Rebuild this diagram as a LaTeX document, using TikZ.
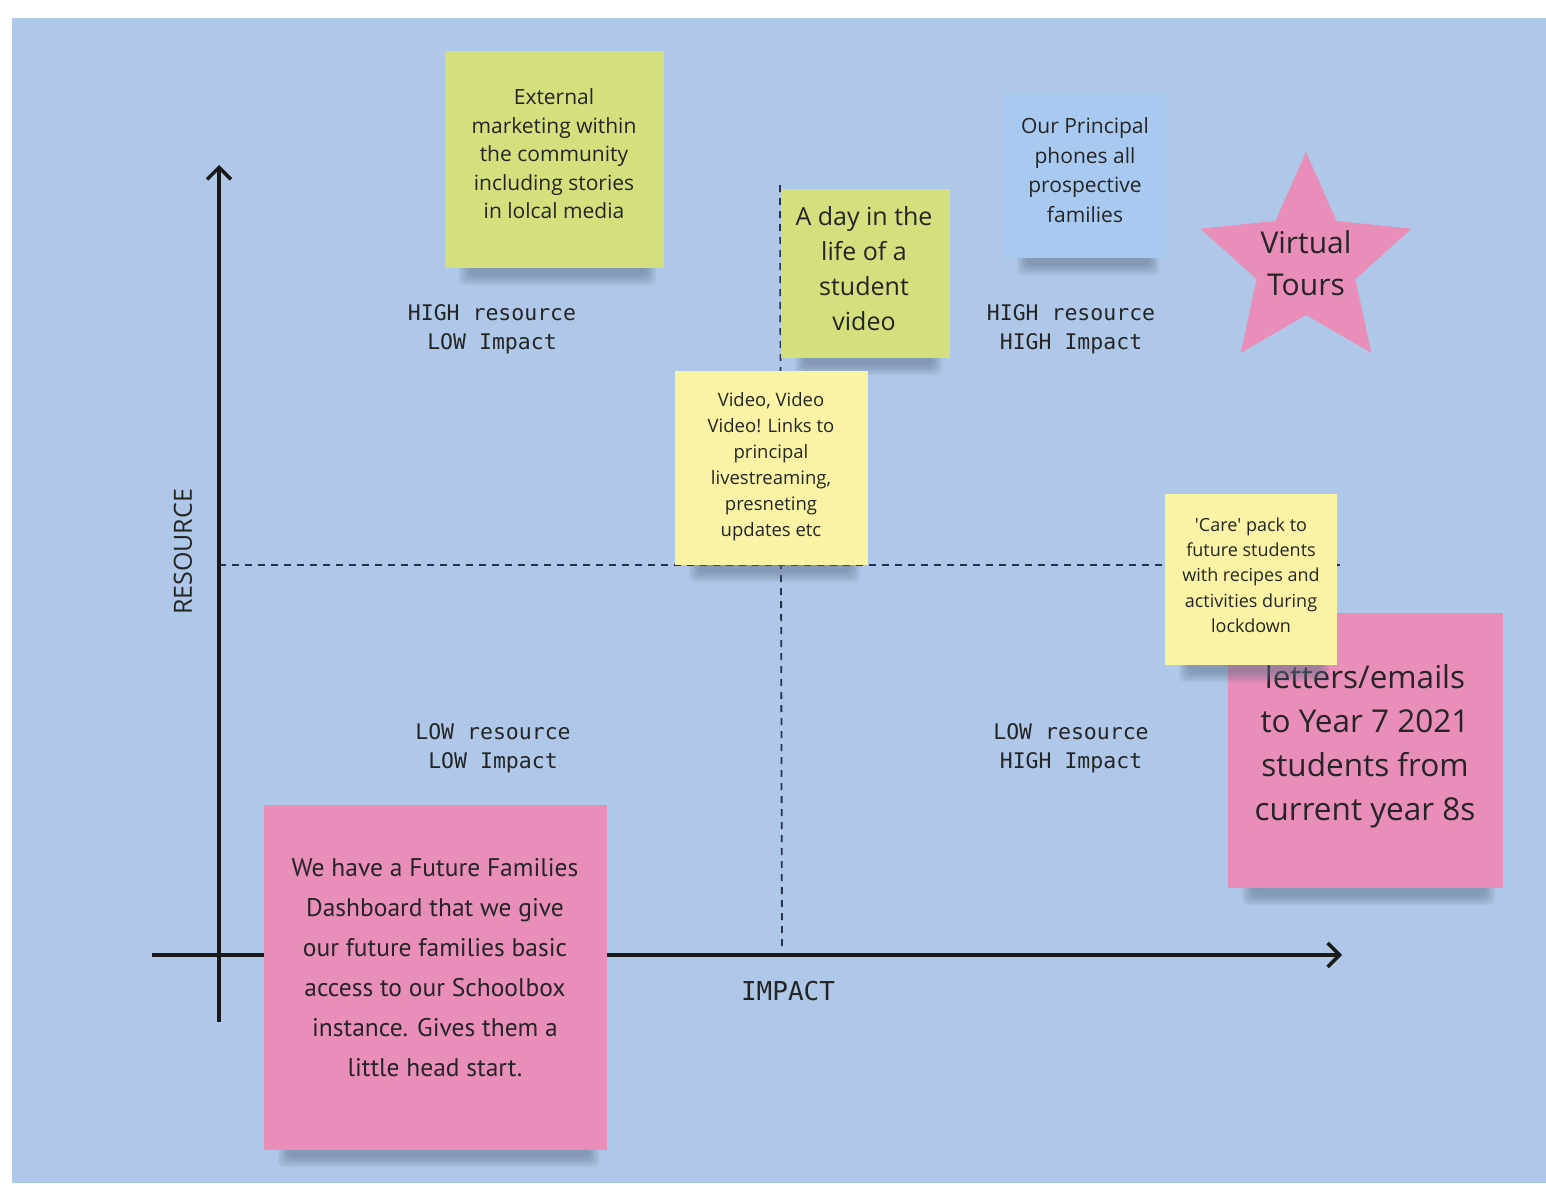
\documentclass[tikz,border=0pt]{standalone}
\usepackage{fontspec}
\setmainfont{Open Sans}
\newfontfamily\monofont{DejaVu Sans Mono}
\newfontfamily\handfont{PT Sans}
\usetikzlibrary{arrows.meta}

\definecolor{boardblue}{HTML}{AFC8E9}
\definecolor{notegreen}{HTML}{D3E07D}
\definecolor{noteyellow}{HTML}{FAF3A6}
\definecolor{noteblue}{HTML}{A8CAF1}
\definecolor{notepink}{HTML}{E88EB9}
\definecolor{dashnavy}{HTML}{27324F}
\definecolor{shadowgrey}{HTML}{5E6E88}
\definecolor{inkgrey}{HTML}{252525}

\tikzset{
  notetext/.style={text=inkgrey, align=center, inner sep=0pt},
  quadlabel/.style={text=inkgrey, align=center, inner sep=0pt,
    font=\monofont\fontsize{21.5}{29}\selectfont},
  axisline/.style={line width=3.5pt, black!90,
    -{Straight Barb[length=12pt, width=24pt]}},
  divider/.style={dashnavy, line width=1.8pt, dash pattern=on 7pt off 6pt}
}

% soft shadow under a sticky note: left x, right x, bottom y
\newcommand{\noteshadow}[3]{%
  \foreach \s in {0,2,...,10}
    \fill[shadowgrey, opacity=0.11, rounded corners=6pt]
      (#1+14+\s,#3-4) rectangle (#2-8-\s,#3+17-\s);
}

\begin{document}
\begin{tikzpicture}[x=1pt, y=-1pt]
  \useasboundingbox (0,0) rectangle (1546,1183);
  % Board
  \fill[white] (0,0) rectangle (1546,1183);
  \fill[boardblue] (12,18) rectangle (1546,1183);
  % Quadrant dividers
  \coordinate (hleft) at (219,565);
  \coordinate (hright) at (1340,565);
  \coordinate (vtop) at (780,185);
  \coordinate (vbottom) at (782,948);
  \draw[divider] (hleft) -- (hright);
  \draw[divider] (vtop) -- (vbottom);
  % Axes
  \coordinate (ybottom) at (219,1022);
  \coordinate (ytop) at (219,165);
  \coordinate (xleft) at (152,955);
  \coordinate (xright) at (1342,955);
  \draw[axisline] (ybottom) -- (ytop);
  \draw[axisline] (xleft) -- (xright);
  \node[text=inkgrey, rotate=90, font=\fontsize{25}{30}\selectfont] (restitle) at (183,552) {RESOURCE};
  \node[text=inkgrey, font=\monofont\fontsize{26}{30}\selectfont] (imptitle) at (788,991) {IMPACT};
  % Quadrant labels
  \node[quadlabel] (hilo) at (492,329) {HIGH resource\\LOW Impact};
  \node[quadlabel] (hihi) at (1071,329) {HIGH resource\\HIGH Impact};
  \node[quadlabel] (lolo) at (493,748) {LOW resource\\LOW Impact};
  \node[quadlabel] (lohi) at (1071,748) {LOW resource\\HIGH Impact};
  % External marketing (green)
  \noteshadow{445}{664}{268}
  \fill[notegreen] (445,51) rectangle (664,268);
  \node[notetext, font=\fontsize{21}{28.5}\selectfont] (extmedia) at (554,154)
    {External\\marketing within\\the community\\including stories\\in lolcal media};
  % A day in the life (green)
  \noteshadow{781}{950}{358}
  \fill[notegreen] (781,189) rectangle (950,358);
  \node[notetext, font=\fontsize{25}{35}\selectfont] (dayvideo) at (864,269)
    {A day in the\\life of a\\student\\video};
  % Principal phones (blue)
  \noteshadow{1003}{1167}{258}
  \fill[noteblue] (1003,93) rectangle (1167,258);
  \node[notetext, font=\fontsize{21}{29.5}\selectfont] (principal) at (1085,170)
    {Our Principal\\phones all\\prospective\\families};
  % Virtual tours (star)
  \fill[notepink, shift={(1306,263)}] (270:111) -- (306:52) -- (342:111) -- (18:52)
    -- (54:111) -- (90:52) -- (126:111) -- (162:52) -- (198:111) -- (234:52) -- cycle;
  \node[notetext, font=\fontsize{30}{42}\selectfont] (tours) at (1306,263) {Virtual\\Tours};
  % Video, video video (yellow)
  \noteshadow{675}{868}{565}
  \fill[noteyellow] (675,371) rectangle (868,565);
  \node[notetext, font=\fontsize{18.5}{26}\selectfont] (livestream) at (771,467)
    {Video, Video\\Video! Links to\\principal\\livestreaming,\\presneting\\updates etc};
  % Letters from year 8s (pink)
  \noteshadow{1228}{1503}{888}
  \fill[notepink] (1228,613) rectangle (1503,888);
  \node[notetext, font=\fontsize{31.5}{44}\selectfont] (letters) at (1365,746)
    {letters/emails\\to Year 7 2021\\students from\\current year 8s};
  % Care pack (yellow)
  \noteshadow{1165}{1337}{665}
  \fill[noteyellow] (1165,494) rectangle (1337,665);
  \node[notetext, font=\fontsize{18}{25.3}\selectfont] (carepack) at (1251,575)
    {\textquotesingle Care\textquotesingle{} pack to\\future students\\with recipes and\\activities during\\lockdown};
  % Future families dashboard (pink)
  \noteshadow{264}{607}{1150}
  \fill[notepink] (264,805) rectangle (607,1150);
  \node[notetext, font=\handfont\fontsize{25.5}{40}\selectfont] (dashboard) at (435,968)
    {We have a Future Families\\Dashboard that we give\\our future families basic\\access to our Schoolbox\\instance. Gives them a\\little head start.};
\end{tikzpicture}
\end{document}
